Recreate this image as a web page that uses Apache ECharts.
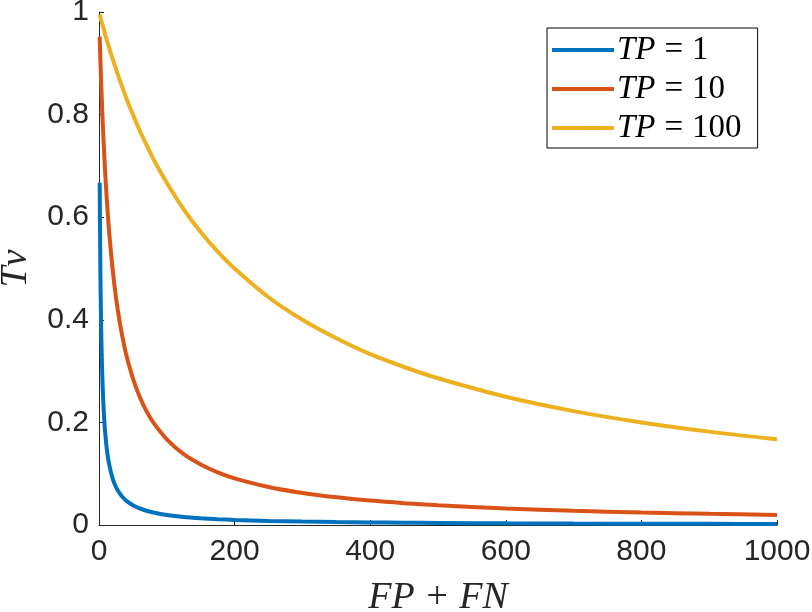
<!DOCTYPE html>
<html>
<head>
<meta charset="utf-8">
<script src="https://cdn.jsdelivr.net/npm/echarts@6/dist/echarts.min.js"></script>
<style>
  html, body { margin: 0; padding: 0; background: #fff; }
  #main { width: 812px; height: 612px; }
</style>
</head>
<body>
<div id="main"></div>
<script>
// FP + FN values sampled along the curves
var fpfn = [1, 2, 3, 4, 5, 6, 8, 10, 12, 15, 20, 25, 30, 35, 40, 50, 60, 70, 80, 100,
            125, 150, 175, 200, 250, 300, 350, 400, 450, 500, 600, 700, 800, 900, 1000];

// Tv
var tp1 = [0.667, 0.5, 0.4, 0.333, 0.286, 0.25, 0.2, 0.167, 0.143, 0.118, 0.0909, 0.0741, 0.0625, 0.0541, 0.0476, 0.0385, 0.0323, 0.0278, 0.0244, 0.0196,
           0.0157, 0.0132, 0.0113, 0.0099, 0.0079, 0.0066, 0.0057, 0.005, 0.0044, 0.004, 0.0033, 0.0028, 0.0025, 0.0022, 0.002];
var tp10 = [0.952, 0.909, 0.870, 0.833, 0.8, 0.769, 0.714, 0.667, 0.625, 0.571, 0.5, 0.444, 0.4, 0.364, 0.333, 0.286, 0.25, 0.222, 0.2, 0.167,
            0.138, 0.118, 0.1026, 0.0909, 0.0741, 0.0625, 0.0541, 0.0476, 0.0426, 0.0385, 0.0323, 0.0278, 0.0244, 0.0217, 0.0196];
var tp100 = [0.995, 0.990, 0.985, 0.980, 0.976, 0.971, 0.962, 0.952, 0.943, 0.930, 0.909, 0.889, 0.870, 0.851, 0.833, 0.8, 0.769, 0.741, 0.714, 0.667,
             0.615, 0.571, 0.533, 0.5, 0.444, 0.4, 0.364, 0.333, 0.308, 0.286, 0.25, 0.222, 0.2, 0.182, 0.167];

var seriesNames = ['TP1', 'TP10', 'TP100'];
var legendValues = ['1', '10', '100'];
var colors = ['#0072BD', '#D95319', '#EDB120'];

function pairs(ys) {
    return fpfn.map(function (x, i) { return [x, ys[i]]; });
}

var myChart = echarts.init(document.getElementById('main'));
var axisColor = '#262626';
var option = {
    color: colors,
    animation: false,
    grid: {
        left: 99,
        right: 35,
        top: 12,
        bottom: 87,
        containLabel: false,
        outerBoundsMode: 'none'
    },
    legend: {
        orient: 'vertical',
        left: 547,
        top: 28,
        padding: [4, 16, 2, 5],
        itemGap: 3,
        itemWidth: 62,
        itemHeight: 4,
        icon: 'rect',
        borderColor: '#000',
        borderWidth: 1,
        backgroundColor: '#fff',
        data: seriesNames,
        formatter: function (name) {
            return '{it|TP}{g|}{n|=}{g|}{n|' + legendValues[seriesNames.indexOf(name)] + '}';
        },
        textStyle: {
            padding: [0, 0, 0, -2],
            rich: {
                it: { fontFamily: 'Liberation Serif', fontStyle: 'italic', fontSize: 33, height: 36, lineHeight: 36, color: '#000' },
                n: { fontFamily: 'Liberation Serif', fontSize: 33, height: 36, lineHeight: 36, color: '#000' },
                g: { width: 9, height: 36 }
            }
        }
    },
    xAxis: {
        type: 'value',
        min: 0,
        max: 1000,
        interval: 200,
        name: 'FP + FN',
        nameLocation: 'middle',
        nameGap: 54,
        nameTextStyle: { fontFamily: 'Liberation Serif', fontStyle: 'italic', fontSize: 38, color: axisColor },
        axisLine: { show: true, lineStyle: { color: axisColor, width: 1 } },
        axisTick: { show: true, inside: true, length: 5, lineStyle: { color: axisColor } },
        axisLabel: {
            fontFamily: 'Liberation Sans', fontSize: 30, color: axisColor, margin: 12,
            formatter: function (v) { return String(v); }
        },
        splitLine: { show: false }
    },
    yAxis: {
        type: 'value',
        min: 0,
        max: 1,
        interval: 0.2,
        name: 'Tv',
        nameLocation: 'middle',
        nameRotate: 90,
        nameGap: 64,
        nameTextStyle: { fontFamily: 'Liberation Serif', fontStyle: 'italic', fontSize: 38, color: axisColor },
        axisLine: { show: true, lineStyle: { color: axisColor, width: 1 } },
        axisTick: { show: true, inside: true, length: 5, lineStyle: { color: axisColor } },
        axisLabel: { fontFamily: 'Liberation Sans', fontSize: 30, color: axisColor, margin: 10 },
        splitLine: { show: false }
    },
    series: [
        { name: 'TP1', type: 'line', data: pairs(tp1), symbol: 'none', smooth: 0.3, lineStyle: { width: 4 } },
        { name: 'TP10', type: 'line', data: pairs(tp10), symbol: 'none', smooth: 0.3, lineStyle: { width: 4 } },
        { name: 'TP100', type: 'line', data: pairs(tp100), symbol: 'none', smooth: 0.3, lineStyle: { width: 4 } }
    ]
};
myChart.setOption(option);
</script>
</body>
</html>
